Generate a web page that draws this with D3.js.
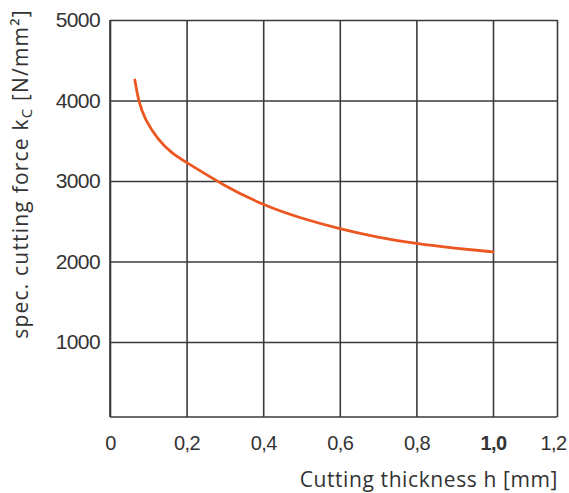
<!DOCTYPE html>
<html>
<head>
<meta charset="utf-8">
<script src="https://cdn.jsdelivr.net/npm/d3@7"></script>
<style>
    body { margin: 0; background: #fff; }
    svg { display: block; font-family: 'Open Sans', sans-serif; }
    .tick text { fill: #333; }
</style>
</head>
<body>
<svg id="chart" width="569" height="493"></svg>
<script>
// x tick values and their labels (decimal comma, as in the source)
const xTicks = [0, 0.2, 0.4, 0.6, 0.8, 1.0, 1.2];
const xTickLabels = ['0', '0,2', '0,4', '0,6', '0,8', '1,0', '1,2'];
const yTicks = [1000, 2000, 3000, 4000, 5000];

// cutting thickness h [mm] and specific cutting force kc [N/mm²]
const thickness = [0.065, 0.074, 0.091, 0.126, 0.161, 0.2, 0.3, 0.4, 0.5, 0.6, 0.7, 0.8, 0.9, 1.0];
const cuttingForce = [4255, 4000, 3760, 3510, 3345, 3230, 2935, 2700, 2535, 2405, 2300, 2220, 2165, 2120];

const svg = d3.select('#chart');

// The source drawing is not quite linear at its ends, so the scales are piecewise
const x = d3.scaleLinear().domain([0, 1.0, 1.2]).range([110, 493, 557]);
const y = d3.scaleLinear().domain([0, 1000, 5000]).range([417, 342, 20]);

const gridColor = '#3a3a3a';
const fontSize = 21;

// vertical grid lines + labels
const xAxis = svg.append('g')
    .attr('transform', `translate(0,${y(0)})`)
    .call(d3.axisBottom(x)
        .tickValues(xTicks)
        .tickSize(-(y(0) - y(5000)))
        .tickPadding(19)
        .tickFormat((d, i) => xTickLabels[i]));
xAxis.select('.domain').remove();
xAxis.selectAll('.tick line').attr('stroke', gridColor).attr('stroke-width', 1.6);
xAxis.selectAll('.tick text')
    .attr('font-size', 20)
    .attr('letter-spacing', -0.6)
    .attr('dx', d => d === 1.2 ? -4 : 0)
    .style('font-weight', (d, i) => xTickLabels[i] === '1,0' ? 600 : 400);

// horizontal grid lines + labels
const yAxis = svg.append('g')
    .attr('transform', `translate(${x(0)},0)`)
    .call(d3.axisLeft(y)
        .tickValues(yTicks)
        .tickSize(-(x(1.2) - x(0)))
        .tickPadding(10)
        .tickFormat(d3.format('d')));
yAxis.select('.domain').remove();
yAxis.selectAll('.tick line').attr('stroke', gridColor).attr('stroke-width', 1.6);
yAxis.selectAll('.tick text')
    .attr('font-size', fontSize)
    .attr('letter-spacing', -0.6);

// frame: left and bottom edges
svg.append('line')
    .attr('x1', x(0)).attr('x2', x(0))
    .attr('y1', y(5000)).attr('y2', y(0))
    .attr('stroke', gridColor).attr('stroke-width', 1.6);
svg.append('line')
    .attr('x1', x(0)).attr('x2', x(1.2))
    .attr('y1', y(0)).attr('y2', y(0))
    .attr('stroke', gridColor).attr('stroke-width', 1.6);

// the curve (basis spline smooths out reading noise)
const points = thickness.map((h, i) => [h, cuttingForce[i]]);
const line = d3.line()
    .x(d => x(d[0]))
    .y(d => y(d[1]))
    .curve(d3.curveBasis);
svg.append('path')
    .datum(points)
    .attr('d', line)
    .attr('fill', 'none')
    .attr('stroke', '#ec5620')
    .attr('stroke-width', 2.8)
    .attr('stroke-linecap', 'round');

// axis titles
svg.append('text')
    .attr('x', x(1.2) + 1)
    .attr('y', 487)
    .attr('text-anchor', 'end')
    .attr('font-size', fontSize)
    .attr('letter-spacing', 0.6)
    .attr('fill', '#333')
    .text('Cutting thickness h [mm]');

const yTitle = svg.append('text')
    .attr('transform', 'translate(28,174) rotate(-90)')
    .attr('text-anchor', 'middle')
    .attr('font-size', fontSize)
    .attr('letter-spacing', 1.2)
    .attr('fill', '#333');
yTitle.append('tspan').text('spec. cutting force k');
yTitle.append('tspan').attr('font-size', 15).attr('dy', 4).text('C');
yTitle.append('tspan').attr('dy', -4).text(' [N/mm²]');
</script>
</body>
</html>
